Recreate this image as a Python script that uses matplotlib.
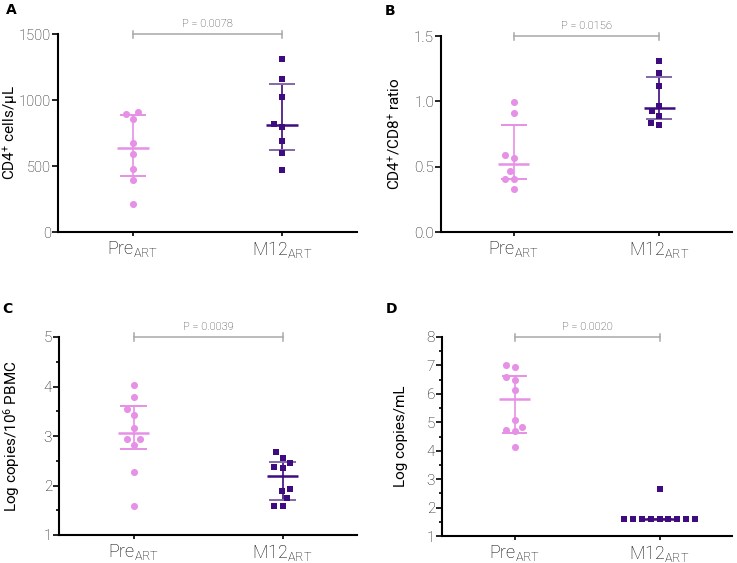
import numpy as np
import matplotlib
matplotlib.use("Agg")
import matplotlib.pyplot as plt
from matplotlib.ticker import MultipleLocator, FormatStrFormatter

plt.rcParams['font.family'] = ['Roboto', 'DejaVu Sans']
plt.rcParams['font.weight'] = 'light'
plt.rcParams['mathtext.default'] = 'regular'

# values
groups = ['Pre$_{ART}$', 'M12$_{ART}$']

a_pre = [897, 910, 857, 673, 592, 481, 396, 212]
a_m12 = [1309, 1157, 1021, 819, 797, 693, 600, 471]
a_stats = [[635, 421, 885], [809, 625, 1124]]     # median, q1, q3

b_pre = [0.993, 0.912, 0.568, 0.588, 0.469, 0.407, 0.407, 0.328]
b_m12 = [1.311, 1.215, 1.120, 0.963, 0.927, 0.891, 0.838, 0.817]
b_stats = [[0.522, 0.407, 0.822], [0.947, 0.861, 1.187]]

c_pre = [4.03, 3.78, 3.54, 3.42, 3.16, 2.93, 2.93, 2.81, 2.27, 1.59]
c_m12 = [2.67, 2.55, 2.45, 2.35, 2.38, 1.93, 1.88, 1.74, 1.59, 1.59]
c_stats = [[3.06, 2.73, 3.60], [2.19, 1.71, 2.48]]

d_pre = [7.03, 6.93, 6.60, 6.48, 6.15, 5.07, 4.82, 4.74, 4.68, 4.14]
d_m12 = [2.66, 1.59, 1.59, 1.59, 1.59, 1.59, 1.59, 1.59, 1.59, 1.59]
d_stats = [[5.82, 4.64, 6.62], [1.59, 1.59, 1.59]]

pvals = ['P = 0.0078', 'P = 0.0156', 'P = 0.0039', 'P = 0.0020']

PRE_C = '#E690E6'
M12_C = '#3E0C7E'
M12_CAP = '#8468A8'
TXT = '#000000'

W, H = 737, 563
fig = plt.figure(figsize=(W / 100, H / 100), dpi=100)


def swarm(vals, px_per_unit, d):
    # simple beeswarm, offsets in pixels
    vals = np.asarray(vals, dtype=float)
    order = np.argsort(vals, kind='stable')
    placed = []
    xs = np.zeros(len(vals))
    for i in order:
        y = vals[i] * px_per_unit
        cands = [0.0]
        for px, py in placed:
            dy = abs(py - y)
            if dy < d:
                dx = np.sqrt(d * d - dy * dy)
                cands += [px + dx, px - dx]
        cands.sort(key=lambda c: (round(abs(c), 6), c))
        for c in cands:
            if all((c - px) ** 2 + (y - py) ** 2 >= d * d - 1e-6 for px, py in placed):
                xs[i] = c
                placed.append((c, y))
                break
    return xs


def panel(box, pre, m12, stats, ylim, major, minor, ylabel, label_x, letter, letter_xy,
          ptxt, ysize=11):
    l, t, r, b = box
    ax = fig.add_axes([l / W, 1 - b / H, (r - l) / W, (b - t) / H])
    ax.set_xlim(-0.5, 1.5)
    ax.set_ylim(*ylim)
    ppu_y = (b - t) / (ylim[1] - ylim[0])
    ppu_x = (r - l) / 2.0

    for k, (vals, col, cap, mk, s) in enumerate([
            (pre, PRE_C, PRE_C, 'o', 26),
            (m12, M12_C, M12_CAP, 's', 20)]):
        off = swarm(vals, ppu_y, 8.8) / ppu_x
        med, q1, q3 = stats[k]
        ax.vlines(k, q1, q3, color=col, lw=1.2, zorder=2)
        ax.hlines([q1, q3], k - 0.088, k + 0.088, color=cap, lw=1.4, zorder=2)
        ax.hlines(med, k - 0.107, k + 0.107, color=col, lw=1.8, zorder=2)
        ax.scatter(k + off, vals, marker=mk, s=s, color=col, linewidths=0,
                   zorder=3, clip_on=False)

    # significance bracket
    yb = ylim[1]
    ax.plot([0, 1], [yb, yb], color='#A8A8A8', lw=1.1, clip_on=False)
    tick = 3.5 / ppu_y
    for xx in (0, 1):
        ax.plot([xx, xx], [yb - tick, yb + tick], color='#A8A8A8', lw=1.1, clip_on=False)
    ax.text(0.5, yb + 5 / ppu_y, ptxt, ha='center', va='bottom', fontsize=8,
            color='#333333')

    ax.set_xticks([0, 1])
    ax.set_xticklabels(groups, fontsize=13, color=TXT)
    ax.yaxis.set_major_locator(MultipleLocator(major))
    if minor:
        ax.yaxis.set_minor_locator(MultipleLocator(minor))
    ax.tick_params(axis='y', labelsize=ysize, labelcolor='#111111', length=4, width=1.2, pad=1)
    ax.tick_params(axis='y', which='minor', length=2, width=1.2)
    ax.tick_params(axis='x', length=3, width=1.2, pad=2)
    ax.set_ylabel(ylabel, fontsize=11, color=TXT)
    ax.yaxis.set_label_coords(label_x, 0.5)
    for sp in ('top', 'right'):
        ax.spines[sp].set_visible(False)
    for sp in ('left', 'bottom'):
        ax.spines[sp].set_linewidth(1.5)
    fig.text(letter_xy[0] / W, 1 - letter_xy[1] / H, letter, fontsize=10,
             fontweight='bold', family='DejaVu Sans', ha='left', va='top')
    return ax


axA = panel((58, 34, 357, 232), a_pre, a_m12, a_stats, (0, 1500), 500, None,
            'CD4$^{+}$ cells/μL', -0.127, 'A', (6, 3), pvals[0], ysize=10.5)
axA.yaxis.set_major_formatter(FormatStrFormatter('%d'))
axB = panel((441, 36, 732, 232), b_pre, b_m12, b_stats, (0, 1.5), 0.5, None,
            'CD4$^{+}$/CD8$^{+}$ ratio', -0.134, 'B', (385, 4), pvals[1])
axB.yaxis.set_major_formatter(FormatStrFormatter('%.1f'))
axC = panel((59, 337, 357, 535), c_pre, c_m12, c_stats, (1, 5), 1, 0.5,
            'Log copies/10$^{6}$ PBMC', -0.125, 'C', (2, 302), pvals[2])
axD = panel((442, 337, 732, 536), d_pre, d_m12, d_stats, (1, 8), 1, 0.5,
            'Log copies/mL', -0.117, 'D', (386, 302), pvals[3])

fig.savefig('out.png', dpi=100)
